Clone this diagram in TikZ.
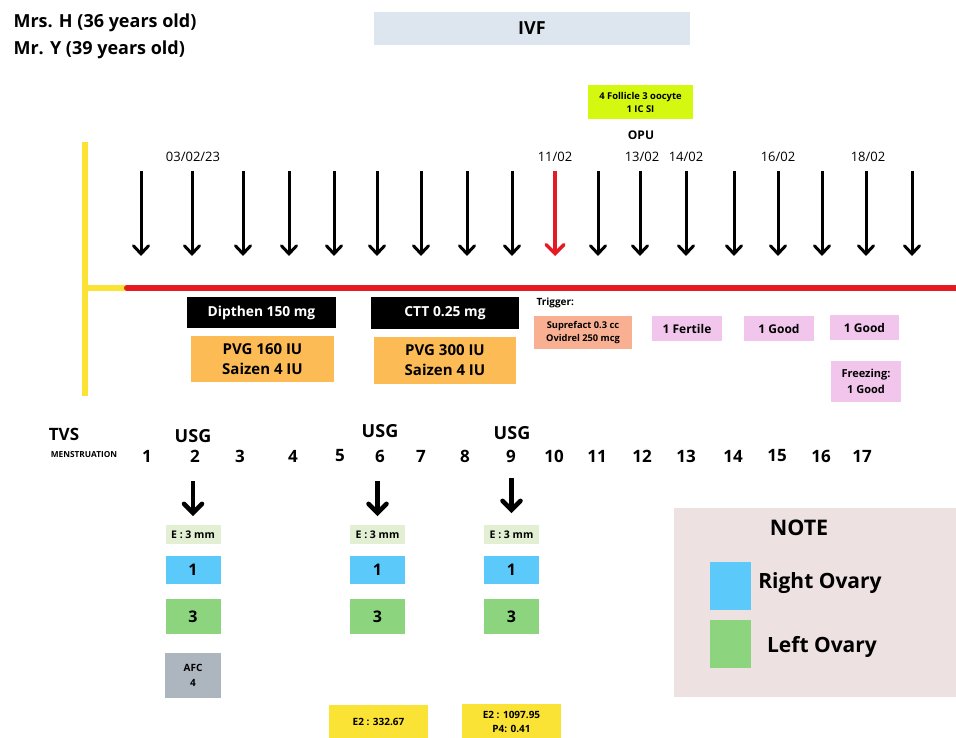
\documentclass[tikz,border=0pt]{standalone}
\usepackage{fontspec}
\setmainfont{Open Sans}
\usetikzlibrary{arrows.meta}
\definecolor{ivfbg}{HTML}{DDE6EE}
\definecolor{lime}{HTML}{D4F80F}
\definecolor{tyellow}{HTML}{FBE335}
\definecolor{tred}{HTML}{E51A22}
\definecolor{orangebx}{HTML}{FDBB56}
\definecolor{salmon}{HTML}{F9B092}
\definecolor{pinkbx}{HTML}{F2C6EC}
\definecolor{ebg}{HTML}{E3EFD2}
\definecolor{bluebx}{HTML}{5BCAFB}
\definecolor{greenbx}{HTML}{8CD47E}
\definecolor{graybx}{HTML}{ADB6BF}
\definecolor{notebg}{HTML}{EDE1E1}
\begin{document}
\begin{tikzpicture}[x=1pt,y=-1pt,
  bx/.style args={#1x#2}{inner sep=0pt, minimum width=#1pt, minimum height=#2pt, align=center, font=\bfseries},
  darr/.style={line width=3pt, -{Straight Barb[length=8pt,width=15pt,line cap=round]}},
  tarr/.style={line width=4.5pt, -{Straight Barb[length=9pt,width=18pt,line cap=round]}},
  datel/.style={font=\fontsize{13}{15}\selectfont},
  num/.style={font=\fontsize{17}{19}\selectfont\bfseries}]
\useasboundingbox (0,0) rectangle (956,737);
\fill[white] (0,0) rectangle (956,737);
% header
\node[anchor=west, font=\fontsize{18}{20}\selectfont\bfseries] (mrs) at (10,23) {Mrs. H (36 years old)};
\node[anchor=west, font=\fontsize{18}{20}\selectfont\bfseries] (mr) at (10,50) {Mr. Y (39 years old)};
\node[bx=316x33, fill=ivfbg, font=\fontsize{18}{20}\selectfont\bfseries] (ivf) at (532,28.5) {IVF};
\node[bx=105x34, fill=lime, font=\fontsize{9.4}{13}\selectfont\bfseries] (fol) at (640.5,102) {4 Follicle 3 oocyte\\1 IC SI};
\node[font=\fontsize{12}{14}\selectfont\bfseries] (opu) at (641,135) {OPU};
% timeline
\coordinate (ytop) at (85,142);
\coordinate (ybot) at (85,396);
\coordinate (yj) at (85,288);
\coordinate (rs) at (127,288);
\coordinate (re) at (960,288);
\draw[tyellow, line width=6pt] (ytop) -- (ybot);
\draw[tyellow, line width=6pt] (yj) -- (rs);
\draw[tred, line width=6pt, line cap=round] (rs) -- (re);
% arrows
\foreach \x/\t [count=\i] in {141/d,192/t,243/d,289/d,334/d,377/t,421/d,467/d,512/t,598/d,640/d,686/d,734/d,778/d,822/d,866/d,912/d}{
  \coordinate (a\i) at (\x,171);
  \coordinate (b\i) at (\x,256);
  \ifx\t t \draw[tarr] (a\i) -- (b\i); \else \draw[darr] (a\i) -- (b\i); \fi
}
\coordinate (ra) at (555,171);
\coordinate (rb) at (555,256);
\draw[tarr, line width=3.5pt, tred] (ra) -- (rb);
% dates
\node[datel] (d1) at (193,157) {03/02/23};
\node[datel] (d2) at (555,157) {11/02};
\node[datel] (d3) at (642,157) {13/02};
\node[datel] (d4) at (686,157) {14/02};
\node[datel] (d5) at (778,157) {16/02};
\node[datel] (d6) at (868,157) {18/02};
% meds
\node[bx=149x31, fill=black, text=white, font=\fontsize{13.8}{16}\selectfont\bfseries] (dip) at (261.5,312.5) {Dipthen 150 mg};
\node[bx=148x32, fill=black, text=white, font=\fontsize{13.8}{16}\selectfont\bfseries] (ctt) at (445,313) {CTT 0.25 mg};
\node[bx=143x46, fill=orangebx, font=\fontsize{15}{20}\selectfont\bfseries] (pvg1) at (262.5,359) {PVG 160 IU\\Saizen 4 IU};
\node[bx=142x47, fill=orangebx, font=\fontsize{15}{20}\selectfont\bfseries] (pvg2) at (445,360.5) {PVG 300 IU\\Saizen 4 IU};
\node[anchor=west, font=\fontsize{10}{12}\selectfont\bfseries] (trig) at (533,303) {Trigger:};
\node[bx=98x33, fill=salmon, font=\fontsize{9.3}{13}\selectfont\bfseries] (sup) at (583,332.5) {Suprefact 0.3 cc\\Ovidrel 250 mcg};
\node[bx=70x25, fill=pinkbx, font=\fontsize{12}{14}\selectfont\bfseries] (p1) at (687,328.5) {1 Fertile};
\node[bx=70x25, fill=pinkbx, font=\fontsize{12}{14}\selectfont\bfseries] (p2) at (779,328.5) {1 Good};
\node[bx=69x25, fill=pinkbx, font=\fontsize{12}{14}\selectfont\bfseries] (p3) at (864.5,327.5) {1 Good};
\node[bx=70x41, fill=pinkbx, font=\fontsize{11}{16}\selectfont\bfseries] (p4) at (866,381.5) {Freezing:\\1 Good};
% TVS row
\node[font=\fontsize{17}{19}\selectfont\bfseries] (tvs) at (64,434) {TVS};
\node[font=\fontsize{8.3}{10}\selectfont\bfseries] (men) at (84,455) {MENSTRUATION};
\foreach \x/\n in {147/1,195/2,240/3,293/4,340/5,380/6,421/7,465/8,511/9,554/10,597/11,642/12,686/13,733/14,777/15,821/16,862/17}{
  \node[num] (n\n) at (\x,456) {\n};
}
\node[font=\fontsize{18}{20}\selectfont\bfseries] (usg1) at (193,436) {USG};
\node[font=\fontsize{18}{20}\selectfont\bfseries] (usg2) at (380,431) {USG};
\node[font=\fontsize{18}{20}\selectfont\bfseries] (usg3) at (512,433) {USG};
% USG columns
\foreach \x/\k/\yt in {193/1/481,377.5/2/481,511.5/3/478}{
  \coordinate (ua\k) at (\x,\yt);
  \coordinate (ub\k) at (\x,\yt+35);
  \draw[tarr] (ua\k) -- (ub\k);
  \node[bx=55x19, fill=ebg, font=\fontsize{10.5}{12}\selectfont\bfseries] (e\k) at (\x,534.5) {E : 3 mm};
  \node[bx=55x28, fill=bluebx, font=\fontsize{16}{18}\selectfont\bfseries] (r\k) at (\x,570) {1};
  \node[bx=55x35, fill=greenbx, font=\fontsize{16}{18}\selectfont\bfseries] (l\k) at (\x,616.5) {3};
}
\node[bx=56x45, fill=graybx, font=\fontsize{10}{15}\selectfont\bfseries] (afc) at (193,675.5) {AFC\\4};
\node[bx=99x34, fill=tyellow, font=\fontsize{10}{12}\selectfont\bfseries] (e2a) at (378.5,722) {E2 : 332.67};
\node[bx=99x35, fill=tyellow, font=\fontsize{10}{14}\selectfont\bfseries] (e2b) at (511.5,721.5) {E2 : 1097.95\\P4: 0.41};
% note
\node[bx=282x189, fill=notebg] (note) at (815,602.5) {};
\node[font=\fontsize{21.5}{24}\selectfont\bfseries] (nt) at (799,528) {NOTE};
\node[bx=41x48, fill=bluebx] (sqb) at (730.5,586) {};
\node[bx=41x48, fill=greenbx] (sqg) at (730.5,644) {};
\node[font=\fontsize{21}{24}\selectfont\bfseries] (ro) at (820,583) {Right Ovary};
\node[font=\fontsize{21}{24}\selectfont\bfseries] (lo) at (822,647) {Left Ovary};
\end{tikzpicture}
\end{document}
